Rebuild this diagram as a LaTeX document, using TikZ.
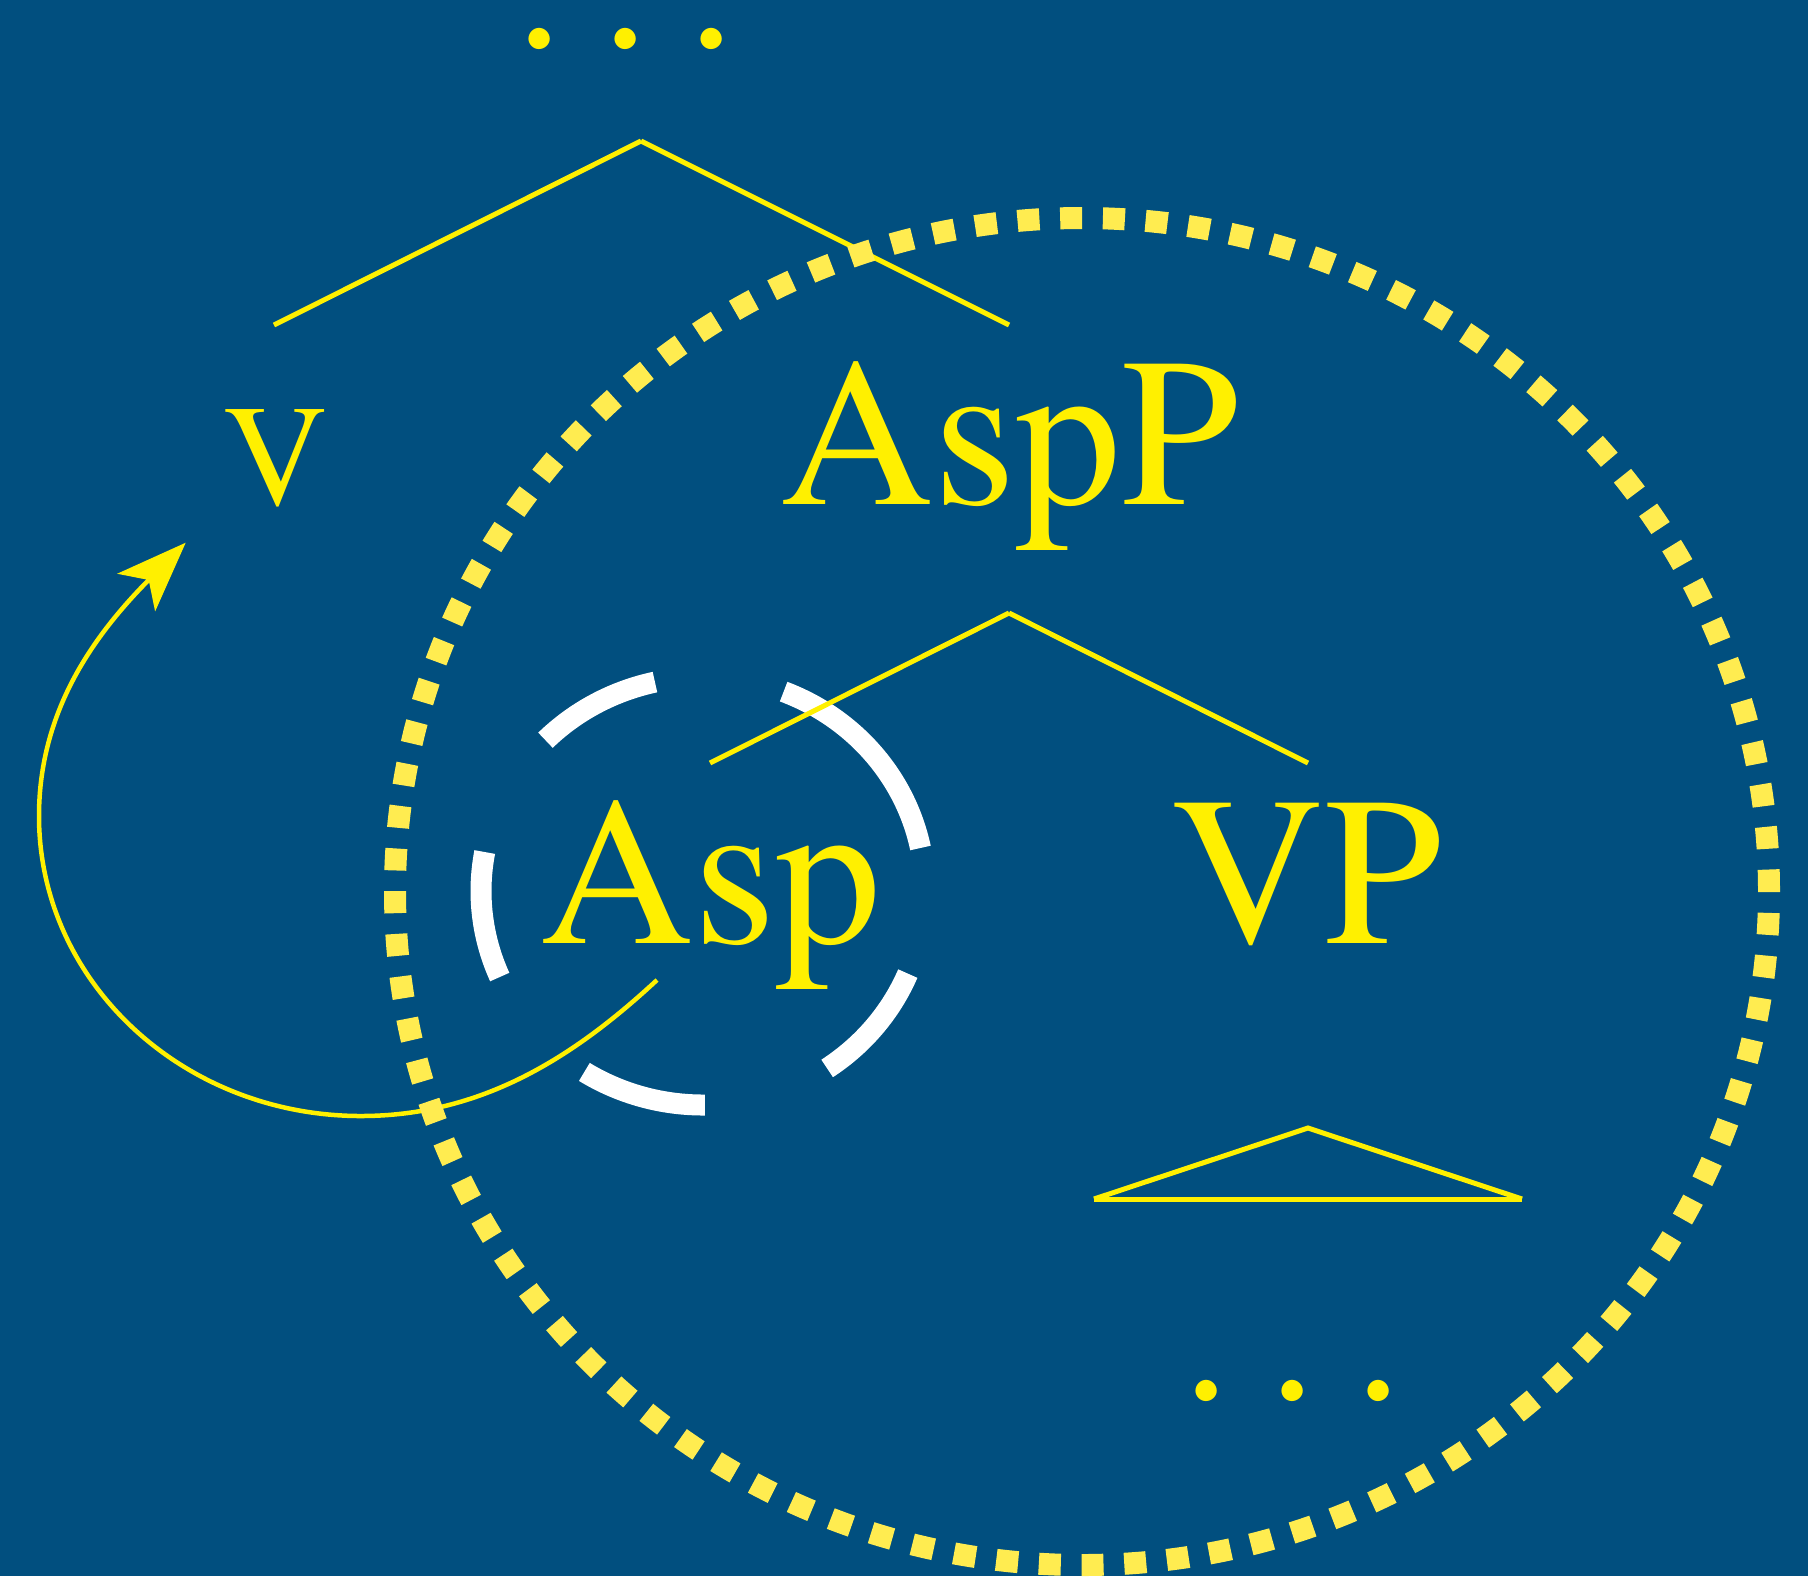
\documentclass[tikz,border=0pt]{standalone}
\usepackage{fontspec}
\setmainfont{TeX Gyre Termes}
\usetikzlibrary{arrows.meta}
\definecolor{bg}{HTML}{014F7F}
\definecolor{yel}{HTML}{FFF000}
\definecolor{ringcol}{HTML}{FFEC50}
\begin{document}
\begin{tikzpicture}[x=0.5pt,y=-0.5pt,
  tree/.style={yel, line width=2.5pt},
  lab/.style={text=yel, inner sep=0pt, anchor=base},
  bigfont/.style={font=\fontsize{106pt}{110pt}\selectfont},
  dotfont/.style={font=\fontsize{96pt}{100pt}\selectfont},
  whitearc/.style={white, line width=10.5pt},
  dotring/.style={ringcol, line width=11pt, dash pattern=on 11pt off 10.371pt},
  movearrow/.style={yel, line width=2.25pt, -{Stealth[length=35pt,width=26.5pt,inset=8.75pt]}}]
\fill[bg] (0,0) rectangle (1808,1576);
\useasboundingbox (0,0) rectangle (1808,1576);

% white dashed circle around Asp
\coordinate (W) at (703,891);
\foreach \a/\b in {102.5/135.2, 11.6/68.7, -56/-22.7, -122.3/-89.5, 169.5/203.7}
  \draw[whitearc] (W) ++(\a:111pt and 107pt) arc[start angle=\a, end angle=\b, x radius=111pt, y radius=107pt];

% labels
\node[lab, font=\fontsize{72.5pt}{76pt}\selectfont] (V) at (276,505) {V};
\node[lab, bigfont] (AspP) at (1010,504) {AspP};
\node[lab, bigfont] (Asp) at (711,943) {Asp};
\node[lab, bigfont] (VP) at (1307,943) {VP};
\node[lab, dotfont, anchor=base west] (dtop) at (515.5,47.7) {.\kern19pt.\kern19pt.};
\node[lab, dotfont, anchor=base west] (dbot) at (1182,1399.1) {.\kern19pt.\kern19pt.};

% tree branches
\coordinate (t1) at (641,141);
\coordinate (t1l) at (274,325);
\coordinate (t1r) at (1009,325);
\coordinate (t2) at (1009,613);
\coordinate (t2l) at (710,763);
\coordinate (t2r) at (1308,763);
\coordinate (t3) at (1308,1128);
\coordinate (t3l) at (1094,1199);
\coordinate (t3r) at (1522,1199);
\draw[tree] (t1) -- (t1l);
\draw[tree] (t1) -- (t1r);
\draw[tree] (t2) -- (t2l);
\draw[tree] (t2) -- (t2r);
\draw[tree] (t3l) -- (t3) -- (t3r);
\draw[tree] (t3l) -- (t3r);

% movement arrow
\coordinate (asrc) at (657,980);
\coordinate (vtip) at (185.7,542.7);
\draw[movearrow] (asrc) .. controls (574,1057) and (482,1116) .. (361,1116)
  .. controls (183,1116) and (39,982) .. (39,816)
  .. controls (39,710) and (95,634) .. (vtip);

% dotted ring
\coordinate (R) at (1082,891.5);
\draw[dotring] (R) ellipse [x radius=343.5pt, y radius=336.75pt];
\end{tikzpicture}
\end{document}
